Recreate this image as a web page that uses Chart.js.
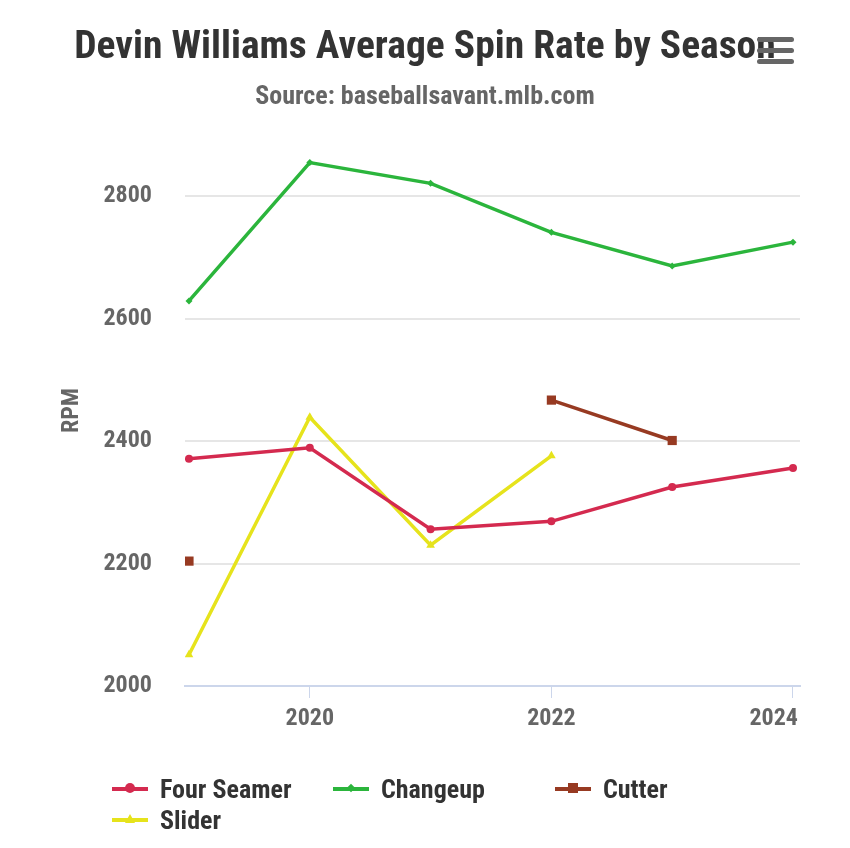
<!DOCTYPE html>
<html>
<head>
<meta charset="utf-8">
<script src="https://cdn.jsdelivr.net/npm/chart.js@4.4.1/dist/chart.umd.min.js"></script>
<style>
  body { margin: 0; background: #fff; }
  #wrap { position: relative; width: 850px; height: 848px; font-family: 'Roboto Condensed', 'Liberation Sans Narrow', 'DejaVu Sans Condensed', Roboto, sans-serif; font-weight: bold; }
  #title { position: absolute; left: 0; width: 850px; top: 21px; text-align: center; font-size: 39.5px; color: #333; }
  #subtitle { position: absolute; left: 0; width: 850px; top: 80px; text-align: center; font-size: 26px; color: #666; }
  .menu { position: absolute; left: 757px; width: 37px; height: 5px; border-radius: 3px; background: #666; }
  #legend { position: absolute; left: 112px; top: 773px; width: 700px; }
  .item { position: absolute; height: 32px; font-size: 26px; color: #333; line-height: 32px; }
  .item .sym { position: absolute; left: 0; top: 14px; width: 36px; height: 4px; }
  .item .dot { position: absolute; top: 10px; left: 13px; width: 10px; height: 10px; }
  .item .txt { position: absolute; left: 48px; white-space: nowrap; }
</style>
</head>
<body>
<div id="wrap">
  <canvas id="myChart" width="850" height="848"></canvas>
  <div id="title">Devin Williams Average Spin Rate by Season</div>
  <div id="subtitle">Source: baseballsavant.mlb.com</div>
  <div class="menu" style="top:37px"></div>
  <div class="menu" style="top:48px"></div>
  <div class="menu" style="top:59px"></div>
  <div id="legend"></div>
</div>
<script>
const seasons = [2019, 2020, 2021, 2022, 2023, 2024];
const fourSeamer = [2371, 2389, 2256, 2269, 2325, 2356];
const changeup = [2629, 2855, 2821, 2741, 2686, 2725];
const cutter = [2204, null, null, 2467, 2401, null];
const slider = [2051, 2439, 2230, 2376, null, null];
const yTicks = [2000, 2200, 2400, 2600, 2800];
const xTicks = [2020, 2022, 2024];

const labelFont = { family: "'Roboto Condensed', 'Liberation Sans Narrow', 'DejaVu Sans Condensed', Roboto, sans-serif", weight: 'bold', size: 24 };

const toPoints = (vals) => seasons.map((s, i) => ({ x: s, y: vals[i] }));

const series = [
  { name: 'Four Seamer', data: fourSeamer, color: '#d42a4f', style: 'circle', radius: 4 },
  { name: 'Changeup', data: changeup, color: '#2bb53c', style: 'rectRot', radius: 3.5 },
  { name: 'Cutter', data: cutter, color: '#973a22', style: 'rect', radius: 6.5 },
  { name: 'Slider', data: slider, color: '#e6e31c', style: 'triangle', radius: 5 },
];

const ctx = document.getElementById('myChart').getContext('2d');
const myChart = new Chart(ctx, {
  type: 'line',
  data: {
    datasets: series.map(s => ({
      label: s.name,
      data: toPoints(s.data),
      borderColor: s.color,
      backgroundColor: s.color,
      borderWidth: 3.5,
      pointStyle: s.style,
      pointRadius: s.radius,
      pointBorderWidth: 0,
      spanGaps: false,
      tension: 0,
    })),
  },
  options: {
    responsive: false,
    animation: false,
    layout: { padding: { left: 54, right: 50, top: 135, bottom: 112 } },
    plugins: { legend: { display: false }, tooltip: { enabled: false } },
    scales: {
      x: {
        type: 'linear',
        min: 2018.967,
        max: 2024.058,
        afterBuildTicks: (axis) => { axis.ticks = xTicks.map(v => ({ value: v })); },
        afterFit: (axis) => { axis.height = 50; },
        grid: { drawOnChartArea: false, drawTicks: true, tickLength: 12, tickColor: '#ccd6eb' },
        border: { display: true, color: '#ccd6eb', width: 2 },
        ticks: {
          font: labelFont, color: '#666', padding: 7, maxRotation: 0,
          // last label sits inside the plot edge, as in the original
          callback: (v) => v === 2024 ? '2024       ' : String(v),
        },
      },
      y: {
        min: 2000,
        max: 2900,
        afterBuildTicks: (axis) => { axis.ticks = yTicks.map(v => ({ value: v })); },
        afterFit: (axis) => { axis.width = 131; },
        grid: { color: '#e6e6e6', lineWidth: 2, drawTicks: false },
        border: { display: false },
        ticks: { font: labelFont, color: '#666', padding: 33, callback: (v) => String(v) },
        title: { display: true, text: 'RPM', font: labelFont, color: '#666', padding: { top: 4, bottom: 0 } },
      },
    },
  },
});

// legend laid out in fixed columns like the original
const legendBox = document.getElementById('legend');
const legendPos = [[0, 0], [221, 0], [443, 0], [0, 31]];
series.forEach((s, i) => {
  const item = document.createElement('div');
  item.className = 'item';
  item.style.left = legendPos[i][0] + 'px';
  item.style.top = legendPos[i][1] + 'px';
  let dot = '';
  if (s.style === 'circle') dot = `<span class="dot" style="background:${s.color};border-radius:5px"></span>`;
  else if (s.style === 'rect') dot = `<span class="dot" style="background:${s.color}"></span>`;
  else if (s.style === 'rectRot') dot = `<span class="dot" style="background:${s.color};transform:rotate(45deg) scale(0.6)"></span>`;
  else dot = `<span class="dot" style="width:0;height:0;background:none;border-left:5px solid transparent;border-right:5px solid transparent;border-bottom:9px solid ${s.color}"></span>`;
  item.innerHTML = `<span class="sym" style="background:${s.color}"></span>${dot}<span class="txt">${s.name}</span>`;
  legendBox.appendChild(item);
});
</script>
</body>
</html>
